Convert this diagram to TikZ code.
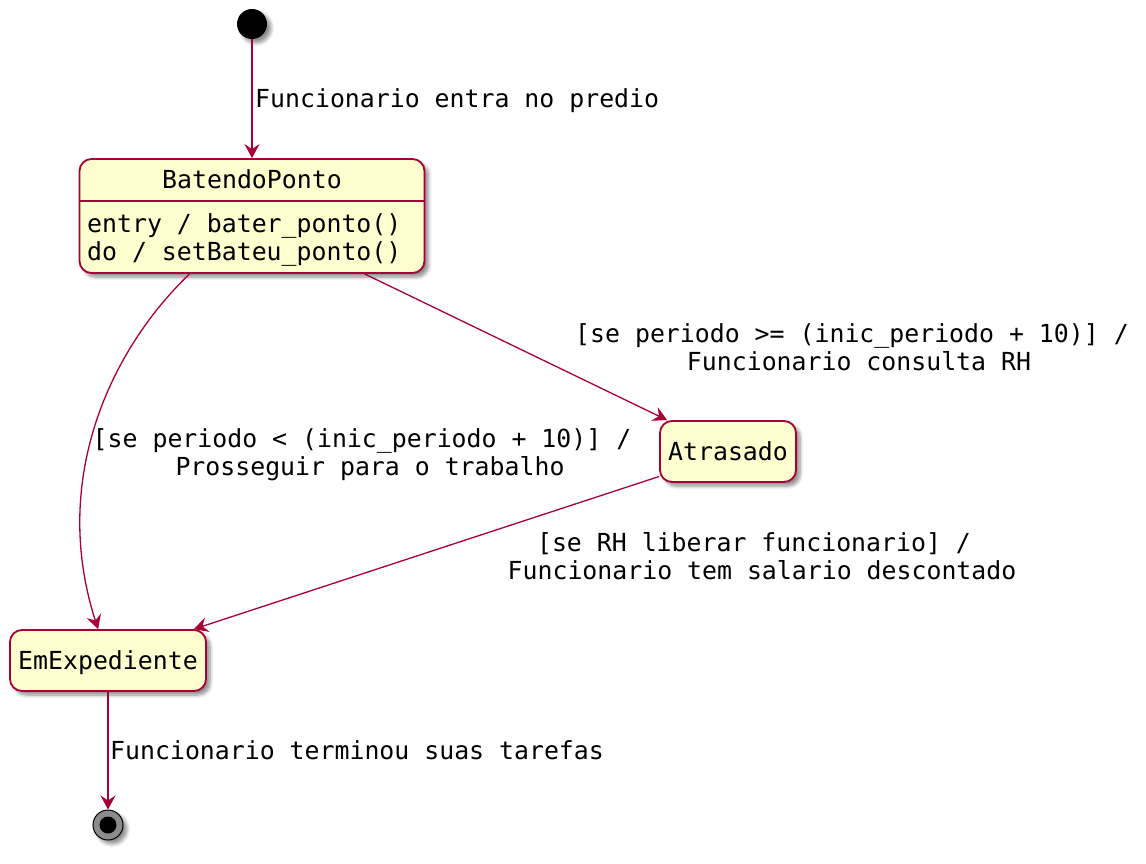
\documentclass[tikz,border=0pt]{standalone}
\usepackage{fontspec}
\setmainfont{DejaVu Sans Mono}
\usetikzlibrary{arrows.meta,shadows,shadows.blur,calc}
\definecolor{umlred}{HTML}{A80036}
\definecolor{umlfill}{HTML}{FEFECE}
\tikzset{
  shad/.style={blur shadow={shadow xshift=4pt,shadow yshift=-4pt,shadow opacity=45,shadow blur radius=3.5pt,shadow blur steps=6}},
  statebox/.style={draw=umlred,fill=umlfill,line width=1.8pt,rounded corners=12pt,shad,inner sep=0pt},
  txt/.style={inner sep=0pt,font=\fontsize{24.85}{28}\selectfont},
  conn/.style={draw=umlred,line width=1.3pt,-{Stealth[length=14pt,width=15pt,inset=5pt]}},
}
\begin{document}
\begin{tikzpicture}[x=1pt,y=-1pt]
\useasboundingbox (0,0) rectangle (1146,864);
% start
\node[circle,fill=black,minimum size=30pt,inner sep=0pt,shad] (start) at (252,24) {};
% BatendoPonto
\node[statebox,minimum width=345pt,minimum height=114pt] (bp) at (252,216) {};
\draw[umlred,line width=1.8pt] (bp.west |- 0,201) -- (bp.east |- 0,201);
\node[txt,anchor=base] (bpt) at (252,189) {BatendoPonto};
\node[txt,anchor=base west] (bpa) at (87,232) {entry / bater\_ponto()};
\node[txt,anchor=base west] (bpb) at (87,260) {do / setBateu\_ponto()};
% Atrasado
\node[statebox,minimum width=136pt,minimum height=61pt] (atr) at (728,451.5) {};
\node[txt,anchor=base] (atrt) at (728,460) {Atrasado};
% EmExpediente
\node[statebox,minimum width=196pt,minimum height=61pt] (em) at (108,660.5) {};
\node[txt,anchor=base] (emt) at (108,669) {EmExpediente};
% end
\node[circle,draw=black,line width=1pt,fill=black!45,minimum size=30pt,inner sep=0pt,shad] (end) at (108,825) {};
\node[circle,fill=black,minimum size=17pt,inner sep=0pt] (endin) at (end) {};
% connectors
\draw[conn] (start.south) -- (bp.north);
\node[txt,anchor=base west] (l1) at (255,108) {Funcionario entra no predio};

\coordinate (a1) at ($(bp.south west)+(286,0)$);
\coordinate (a2) at ($(atr.north west)+(8,0)$);
\draw[conn] (a1) -- (a2);
\node[txt,anchor=base] (l2a) at (852,342) {[se periodo >= (inic\_periodo + 10)] /};
\node[txt,anchor=base] (l2b) at (859,370) {Funcionario consulta RH};

\coordinate (b1) at ($(bp.south west)+(111,0)$);
\coordinate (b2) at ($(em.north west)+(89,0)$);
\draw[conn] (b1) .. controls (110,350) and (50,480) .. (b2);
\node[txt,anchor=base] (l3a) at (362,447) {[se periodo < (inic\_periodo + 10)] /};
\node[txt,anchor=base] (l3b) at (370,475) {Prosseguir para o trabalho};

\coordinate (c1) at ($(atr.west)+(0,25)$);
\coordinate (c2) at ($(em.north east)+(-13,0)$);
\draw[conn] (c1) -- (c2);
\node[txt,anchor=base] (l4a) at (754,551) {[se RH liberar funcionario] /};
\node[txt,anchor=base] (l4b) at (762,579) {Funcionario tem salario descontado};

\draw[conn] (em.south) -- (end.north);
\node[txt,anchor=base west] (l5) at (110,759) {Funcionario terminou suas tarefas};
\end{tikzpicture}
\end{document}
